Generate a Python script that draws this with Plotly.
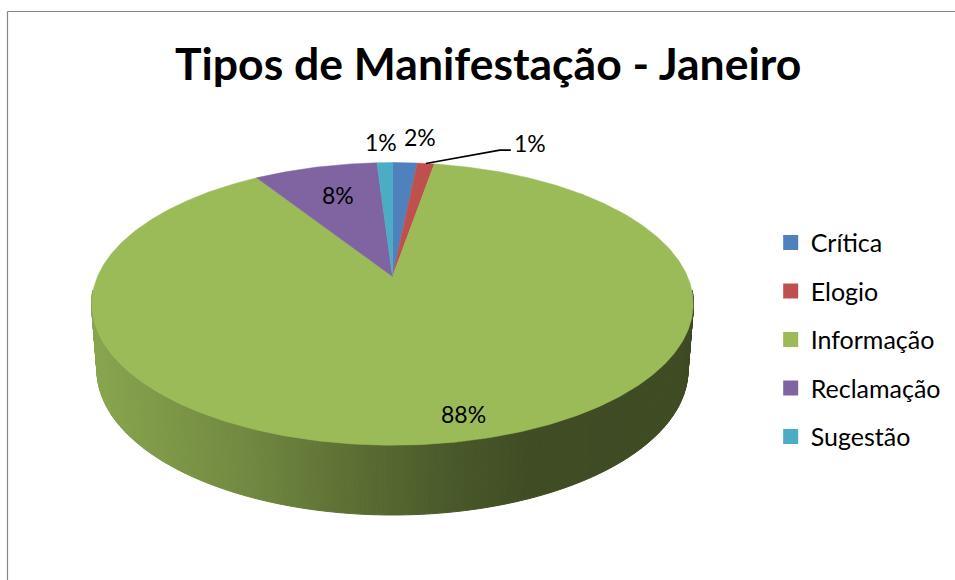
import numpy as np
import plotly.graph_objects as go

categories = ["Crítica", "Elogio", "Informação", "Reclamação", "Sugestão"]
values = [1.6, 1.1, 88.3, 8.0, 1.0]
labels = ["2%", "1%", "88%", "8%", "1%"]
colors = ["#4F81BD", "#C0504D", "#9BBB59", "#8064A2", "#4BACC6"]
title = "Tipos de Manifestação - Janeiro"

# projection of the tilted disc onto the 955x580 page (pixel axes)
CX, CY = 392.5, 276.5
RX, RY, K = 295.0, 136.0, 0.194


def project(fraction):
    """Point on the rim for a cumulative share (0 = 12 o'clock, clockwise)."""
    t = 2 * np.pi * np.asarray(fraction)
    u, v = np.sin(t), np.cos(t)
    w = 1 + K * v
    return CX + RX * u / w, CY - RY * v / w


fig = go.Figure()

# rim side: strips between the top ellipse and the lower ellipse
TOP_X, TOP_Y, TOP_A, TOP_B = 392.5, 303.5, 301.0, 141.5
BOT_X, BOT_Y, BOT_A, BOT_B = 392.5, 370.0, 295.5, 145.0
shade_x = [92, 250, 350, 450, 530, 700]
shade_f = [0.89, 0.73, 0.60, 0.48, 0.41, 0.40]
side_rgb = np.array([0x9B, 0xBB, 0x59])
phis = np.linspace(np.pi * 1.03, -np.pi * 0.03, 241)
for p0, p1 in zip(phis[:-1], phis[1:]):
    xs = [TOP_X + TOP_A * np.cos(p0), TOP_X + TOP_A * np.cos(p1),
          BOT_X + BOT_A * np.cos(p1), BOT_X + BOT_A * np.cos(p0)]
    ys = [TOP_Y + TOP_B * np.sin(p0), TOP_Y + TOP_B * np.sin(p1),
          BOT_Y + BOT_B * np.sin(p1), BOT_Y + BOT_B * np.sin(p0)]
    f = np.interp(np.mean(xs), shade_x, shade_f)
    r, g, b = (side_rgb * f).astype(int)
    c = f"rgb({r},{g},{b})"
    fig.add_shape(type="path", xref="x", yref="y", layer="below",
                  path="M " + " L ".join(f"{x:.2f},{y:.2f}" for x, y in zip(xs, ys)) + " Z",
                  fillcolor=c, line=dict(color=c, width=1))

# slices
total = sum(values)
cum = np.concatenate([[0], np.cumsum(values)]) / total
for i, name in enumerate(categories):
    fr = np.linspace(cum[i], cum[i + 1], max(3, int((cum[i + 1] - cum[i]) * 720)))
    xs, ys = project(fr)
    fig.add_trace(go.Scatter(
        x=[CX, *xs, CX], y=[CY, *ys, CY], mode="lines", fill="toself",
        fillcolor=colors[i], line=dict(color=colors[i], width=0.5),
        hoverinfo="text", text=f"{name}: {labels[i]}", showlegend=False,
        legendgroup=name))

# legend entries
for i, name in enumerate(categories):
    fig.add_trace(go.Scatter(
        x=[None], y=[None], mode="markers", name=name, legendgroup=name,
        marker=dict(symbol="square", size=15, color=colors[i])))

# data labels anchored to each slice's rim midpoint
label_offsets = [(15, -26), (104, -20), (-1, -27), (22, 28), (-4, -21)]
for i, lab in enumerate(labels):
    mx, my = project((cum[i] + cum[i + 1]) / 2)
    dx, dy = label_offsets[i]
    fig.add_annotation(x=mx + dx, y=my + dy, text=lab, showarrow=False,
                       font=dict(family="Lato", size=23, color="#000000"))

# leader line for the Elogio label
lx, ly = project((cum[1] + cum[2]) / 2)
fig.add_trace(go.Scatter(x=[lx, lx + 74, lx + 85], y=[ly, ly - 13.3, ly - 13.3],
                         mode="lines", line=dict(color="#000000", width=1.6),
                         hoverinfo="skip", showlegend=False))

# chart frame: left and top edges only are visible
fig.add_shape(type="line", x0=7.5, x1=7.5, y0=11.5, y1=580,
              line=dict(color="#868686", width=1.2))
fig.add_shape(type="line", x0=7.5, x1=955, y0=11.5, y1=11.5,
              line=dict(color="#868686", width=1.2))

fig.add_annotation(x=488, y=62, text=f"<b>{title}</b>", showarrow=False,
                   font=dict(family="Lato", size=44.5, color="#000000"))

fig.update_layout(
    width=955, height=580, autosize=False,
    margin=dict(l=0, r=0, t=0, b=0),
    paper_bgcolor="#FFFFFF", plot_bgcolor="#FFFFFF",
    xaxis=dict(range=[0, 955], visible=False, fixedrange=True),
    yaxis=dict(range=[580, 0], visible=False, fixedrange=True),
    legend=dict(x=0.807, y=0.621, xanchor="left", yanchor="top", tracegroupgap=13,
                font=dict(family="Lato", size=25, color="#000000"),
                bgcolor="rgba(0,0,0,0)"),
)

fig.write_html("out.html", config={"displayModeBar": False},
               post_script="document.body.style.margin='0';")
